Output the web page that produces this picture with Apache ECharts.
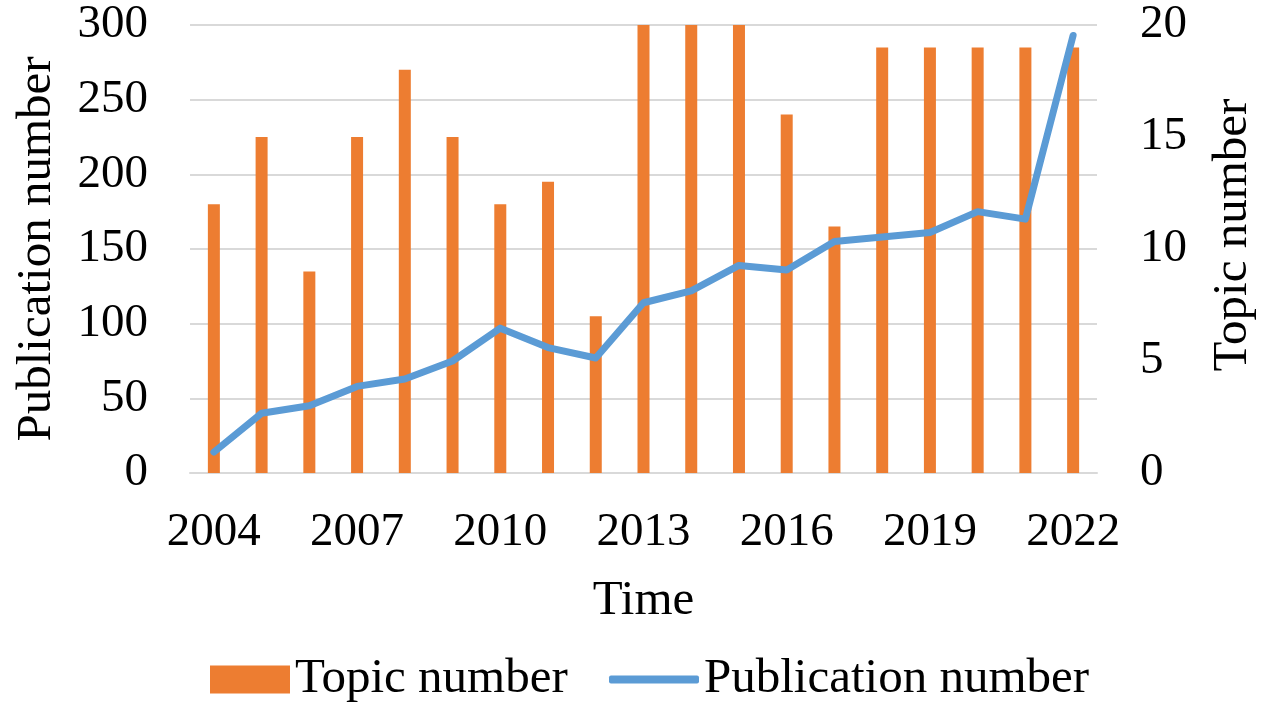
<!DOCTYPE html>
<html>
<head>
<meta charset="utf-8">
<script src="https://cdn.jsdelivr.net/npm/echarts@6/dist/echarts.min.js"></script>
<style>
html,body{margin:0;padding:0;background:#fff;}
#main{width:1277px;height:714px;}
</style>
</head>
<body>
<div id="main"></div>
<script>
var years = ['2004','2005','2006','2007','2008','2009','2010','2011','2012','2013','2014','2015','2016','2017','2018','2019','2020','2021','2022'];
var topicNumber = [12,15,9,15,18,15,12,13,7,20,20,20,16,11,19,19,19,19,19];
var publicationNumber = [14,40,45,58,63,75,97,84,77,114,122,139,136,155,158,161,175,170,293];
var leftTicks = {min:0, max:300, interval:50};
var rightTicks = {min:0, max:20, interval:5};

var font = '"Liberation Serif", "Times New Roman", serif';
var chart = echarts.init(document.getElementById('main'));
chart.setOption({
  animation:false,
  backgroundColor:'#ffffff',
  textStyle:{fontFamily:font},
  grid:{left:190, right:180, top:25, bottom:241, containLabel:false},
  legend:[{
    data:['Topic number'],
    left:205, top:650,
    itemWidth:80, itemHeight:28, itemGap:10,
    icon:'rect',
    textStyle:{fontFamily:font, fontSize:49, color:'#000'}
  },{
    data:['Publication number'],
    left:604, top:650,
    itemWidth:90, itemHeight:8,
    icon:'roundRect',
    textStyle:{fontFamily:font, fontSize:49, color:'#000'}
  }],
  xAxis:{
    type:'category',
    data:years,
    name:'Time',
    nameLocation:'middle',
    nameGap:104,
    nameTextStyle:{fontFamily:font, fontSize:49, color:'#000'},
    axisLine:{show:true, lineStyle:{color:'#d9d9d9', width:2}},
    axisTick:{show:false},
    axisLabel:{interval:2, margin:36, fontFamily:font, fontSize:47, color:'#000'}
  },
  yAxis:[{
    type:'value',
    min:leftTicks.min, max:leftTicks.max, interval:leftTicks.interval,
    name:'Publication number',
    nameLocation:'middle',
    nameGap:128,
    nameRotate:90,
    nameTextStyle:{fontFamily:font, fontSize:49, color:'#000'},
    axisLine:{show:false},
    axisTick:{show:false},
    axisLabel:{margin:42, fontFamily:font, fontSize:47, color:'#000'},
    splitLine:{show:true, lineStyle:{color:'#d9d9d9', width:2}}
  },{
    type:'value',
    min:rightTicks.min, max:rightTicks.max, interval:rightTicks.interval,
    name:'Topic number',
    nameLocation:'middle',
    nameGap:112,
    nameRotate:90,
    nameTextStyle:{fontFamily:font, fontSize:49, color:'#000', padding:[0,0,0,28]},
    axisLine:{show:false},
    axisTick:{show:false},
    axisLabel:{margin:43, fontFamily:font, fontSize:47, color:'#000'},
    splitLine:{show:false}
  }],
  series:[{
    name:'Topic number',
    type:'bar',
    yAxisIndex:1,
    data:topicNumber,
    barWidth:12,
    itemStyle:{color:'#ed7d31'}
  },{
    name:'Publication number',
    type:'line',
    yAxisIndex:0,
    data:publicationNumber,
    symbol:'none',
    lineStyle:{color:'#5b9bd5', width:7, cap:'round', join:'round'},
    itemStyle:{color:'#5b9bd5'}
  }]
});
</script>
</body>
</html>
